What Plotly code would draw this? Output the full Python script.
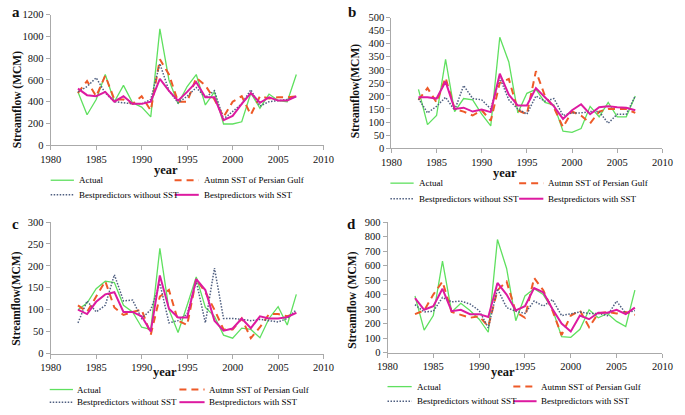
import plotly.graph_objects as go

years = list(range(1983, 2008))

# Panel a
a_actual = [490, 280, 420, 650, 400, 550, 390, 350, 260, 1070, 600, 380, 540, 650, 370, 490, 195, 195, 215, 480, 340, 470, 410, 400, 650]
a_sst = [480, 590, 450, 640, 420, 420, 380, 450, 320, 790, 650, 400, 400, 620, 550, 420, 260, 400, 450, 280, 450, 430, 440, 440, 450]
a_without = [490, 540, 620, 480, 400, 390, 380, 380, 420, 750, 500, 390, 450, 530, 440, 500, 240, 310, 380, 510, 360, 400, 410, 420, 450]
a_with = [520, 460, 450, 490, 400, 450, 380, 380, 400, 610, 500, 410, 490, 580, 440, 440, 230, 270, 380, 480, 390, 440, 410, 410, 450]

# Panel b
b_actual = [225, 90, 125, 340, 140, 190, 185, 130, 85, 425, 330, 135, 210, 225, 175, 165, 65, 60, 75, 160, 120, 175, 120, 120, 200]
b_sst = [185, 230, 175, 270, 150, 140, 125, 145, 105, 250, 265, 145, 130, 295, 200, 155, 80, 140, 125, 95, 140, 150, 150, 150, 135]
b_without = [190, 135, 160, 195, 145, 240, 190, 185, 150, 270, 185, 150, 130, 200, 180, 190, 125, 135, 135, 140, 140, 95, 130, 130, 200]
b_with = [195, 195, 190, 255, 150, 155, 140, 148, 138, 285, 205, 163, 163, 230, 195, 160, 112, 145, 168, 130, 157, 160, 157, 155, 145]

# Panel c
c_actual = [100, 115, 148, 165, 162, 110, 95, 60, 55, 240, 100, 48, 110, 175, 105, 85, 42, 35, 58, 55, 36, 80, 107, 65, 135]
c_sst = [110, 95, 130, 165, 105, 88, 95, 100, 43, 130, 145, 75, 65, 170, 140, 100, 55, 55, 80, 35, 60, 90, 90, 85, 92]
c_without = [70, 120, 95, 110, 180, 120, 122, 80, 100, 160, 70, 75, 90, 165, 70, 195, 80, 80, 78, 75, 78, 75, 72, 80, 100]
c_with = [100, 90, 118, 135, 140, 95, 95, 85, 50, 178, 102, 82, 82, 170, 145, 75, 52, 57, 80, 58, 85, 80, 80, 83, 93]

# Panel d
d_actual = [390, 155, 255, 630, 280, 340, 290, 230, 140, 780, 580, 220, 390, 440, 400, 300, 110, 105, 160, 295, 240, 270, 215, 180, 430]
d_sst = [265, 290, 400, 490, 280, 260, 240, 250, 180, 430, 490, 280, 240, 515, 430, 290, 120, 255, 290, 175, 270, 280, 270, 280, 260]
d_without = [330, 280, 285, 380, 350, 355, 335, 290, 170, 440, 310, 285, 270, 355, 320, 365, 255, 265, 280, 270, 270, 255, 355, 270, 290]
d_with = [375, 295, 320, 440, 285, 295, 265, 265, 245, 480, 400, 290, 320, 445, 415, 300, 200, 145, 255, 230, 275, 275, 295, 265, 310]

series_names = ["Actual", "Autmn SST of Persian Gulf", "Bestpredictors without SST", "Bestpredictors with SST"]
x_ticks = [1980, 1985, 1990, 1995, 2000, 2005, 2010]

W, H = 685, 415
def px(x):
    return x / W
def py(y):
    return 1 - y / H

FONT = "Liberation Serif"
AXC = "#aaaaaa"
styles = [
    dict(color="#5FE05F", width=1.3),
    dict(color="#EE5A28", width=2, dash="7px,5px"),
    dict(color="#4F5F80", width=1.5, dash="1.5px,1.5px"),
    dict(color="#DD1AA0", width=2),
]

# legend layout per panel: rows y, col1 (line x0, x1, text x), col2 (line x0, x1, text x)
panels = [
    dict(label="a", data=[a_actual, a_sst, a_without, a_with], ymax=1200, dtick=200,
         x0=41, x1=323, y0=10, y1=144, ytitle="Streamflow (MCM)", ytx=7, yty=97,
         yearx=160, yeary=169, labx=5, laby=7,
         rows=(180, 195), cols=((41, 65, 68), (169, 194, 197))),
    dict(label="b", data=[b_actual, b_sst, b_without, b_with], ymax=500, dtick=50,
         x0=393, x1=673, y0=13, y1=147, ytitle="Streamflow(MCM)", ytx=356, yty=89,
         yearx=510, yeary=173, labx=352, laby=7,
         rows=(183, 199), cols=((392, 416, 419), (525, 550, 553))),
    dict(label="c", data=[c_actual, c_sst, c_without, c_with], ymax=300, dtick=50,
         x0=41, x1=323, y0=223, y1=358, ytitle="Streamflow(MCM)", ytx=6, yty=302,
         yearx=159, yeary=377, labx=5, laby=225,
         rows=(395, 408), cols=((40, 64, 66), (174, 200, 203))),
    dict(label="d", data=[d_actual, d_sst, d_without, d_with], ymax=900, dtick=100,
         x0=389, x1=673, y0=223, y1=357, ytitle="Streamflow (MCM)", ytx=353, yty=303,
         yearx=508, yeary=377, labx=352, laby=225,
         rows=(392, 407), cols=((389, 414, 417), (519, 543, 546))),
]

fig = go.Figure()
annotations = []
shapes = []
for i, p in enumerate(panels):
    n = i + 1
    xa = "x" if n == 1 else f"x{n}"
    ya = "y" if n == 1 else f"y{n}"
    for k in range(4):
        fig.add_trace(go.Scatter(x=years, y=p["data"][k], mode="lines", name=series_names[k],
                                 line=styles[k], xaxis=xa, yaxis=ya, showlegend=False))
        row = k // 2
        col = k % 2
        ly = p["rows"][row]
        lx0, lx1, tx = p["cols"][col]
        st = styles[k]
        shapes.append(dict(type="line", xref="paper", yref="paper",
                           x0=px(lx0), x1=px(lx1), y0=py(ly), y1=py(ly),
                           line=dict(color=st["color"], width=st["width"], dash=st.get("dash", "solid"))))
        annotations.append(dict(text=series_names[k], x=px(tx), y=py(ly), xref="paper", yref="paper",
                                showarrow=False, xanchor="left", yanchor="middle",
                                font=dict(family=FONT, size=9, color="#000")))
    axkey_x = "xaxis" if n == 1 else f"xaxis{n}"
    axkey_y = "yaxis" if n == 1 else f"yaxis{n}"
    fig.layout[axkey_x] = dict(domain=[px(p["x0"]), px(p["x1"])], range=[1980, 2010],
                               tickvals=x_ticks, ticks="outside", ticklen=4, tickcolor=AXC,
                               showline=True, linecolor=AXC, linewidth=1, showgrid=False,
                               zeroline=False, anchor=ya,
                               tickfont=dict(family=FONT, size=10.5, color="#111"))
    fig.layout[axkey_y] = dict(domain=[py(p["y1"]), py(p["y0"])], range=[0, p["ymax"]],
                               dtick=p["dtick"], tick0=0, ticks="outside", ticklen=4, tickcolor=AXC,
                               showline=True, linecolor=AXC, linewidth=1, showgrid=False,
                               zeroline=False, anchor=xa,
                               tickfont=dict(family=FONT, size=10.5, color="#111"))
    annotations.append(dict(text=f"<b>{p['ytitle']}</b>", x=px(p["ytx"]), y=py(p["yty"]),
                            xref="paper", yref="paper", textangle=-90, showarrow=False,
                            font=dict(family=FONT, size=11.5, color="#111"), xanchor="center", yanchor="middle"))
    annotations.append(dict(text="<b>year</b>", x=px(p["yearx"]), y=py(p["yeary"]),
                            xref="paper", yref="paper", showarrow=False,
                            font=dict(family=FONT, size=12.5, color="#111"), xanchor="center", yanchor="middle"))
    annotations.append(dict(text=f"<b>{p['label']}</b>", x=px(p["labx"]), y=py(p["laby"]),
                            xref="paper", yref="paper", showarrow=False,
                            font=dict(family=FONT, size=15, color="#111"), xanchor="center", yanchor="middle"))

fig.update_layout(width=W, height=H, margin=dict(l=0, r=0, t=0, b=0),
                  plot_bgcolor="white", paper_bgcolor="white",
                  annotations=annotations, shapes=shapes, showlegend=False)
fig.write_html("out.html", config={"displayModeBar": False},
               post_script="document.body.style.margin='0px';document.body.style.padding='0px';")
